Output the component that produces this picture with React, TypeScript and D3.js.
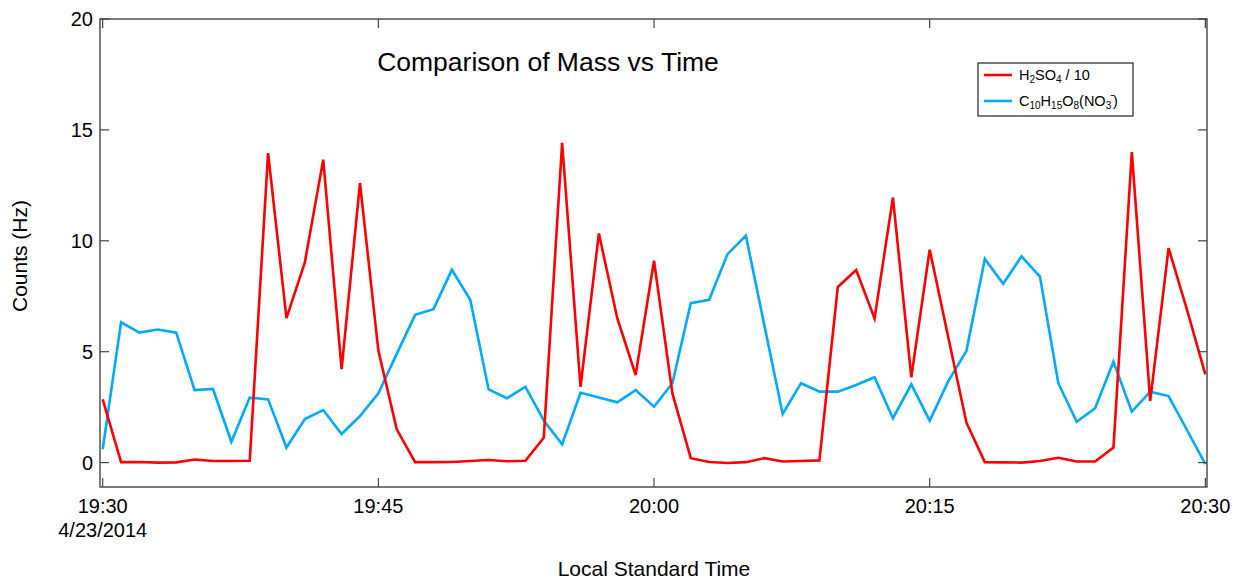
import React from "react";
import * as d3 from "d3";

const START = new Date(2014, 3, 23, 19, 30);
const MINUTES = d3.range(0, 61);
const H2SO4_DIV10 = [
  2.85, 0.02, 0.03, 0.0, 0.01, 0.14, 0.07, 0.07, 0.08, 13.95,
  6.51, 9.03, 13.66, 4.21, 12.6, 5.05, 1.5, 0.02, 0.02, 0.03,
  0.07, 0.12, 0.06, 0.08, 1.12, 14.42, 3.42, 10.33, 6.51, 3.95,
  9.1, 3.12, 0.2, 0.03, -0.02, 0.02, 0.2, 0.05, 0.07, 0.1,
  7.92, 8.68, 6.5, 11.95, 3.85, 9.6, 5.7, 1.8, 0.02, 0.01,
  0.0, 0.07, 0.22, 0.05, 0.05, 0.68, 14.0, 2.78, 9.67, 6.9,
  3.98,
];
const C10H15O8NO3 = [
  0.6, 6.32, 5.86, 6.0, 5.86, 3.27, 3.32, 0.94, 2.93, 2.85,
  0.68, 1.96, 2.37, 1.29, 2.1, 3.12, 4.9, 6.66, 6.92, 8.69,
  7.34, 3.3, 2.9, 3.42, 1.9, 0.82, 3.15, 2.93, 2.72, 3.27,
  2.52, 3.58, 7.19, 7.34, 9.4, 10.23, 6.2, 2.19, 3.58, 3.2,
  3.2, 3.5, 3.85, 2.0, 3.53, 1.89, 3.65, 5.04, 9.18, 8.06,
  9.3, 8.39, 3.58, 1.84, 2.45, 4.55, 2.3, 3.2, 3.0, 1.47,
  -0.07,
];
const Y_TICKS = [0, 5, 10, 15, 20];
const X_TICK_MINUTES = [0, 15, 30, 45, 60];
const DATE_LABEL = "4/23/2014";

const W = 1237;
const H = 580;
const PL = 100, PR = 1207, PT = 19, PB = 487;
const RED = "#ff0000";
const BLUE = "#00aaff";
const AXIS = "#444";
const FONT = "'Liberation Sans', Arial, sans-serif";

const t = (m: number) => START.getTime() + m * 60000;

export default function App() {
  const x = d3
    .scaleTime()
    .domain([new Date(t(-0.147)), new Date(t(60.09))])
    .range([PL, PR]);
  const y = d3.scaleLinear().domain([-1.1, 20]).range([PB, PT]);
  const fmt = d3.timeFormat("%H:%M");

  const line = d3
    .line<number>()
    .x((_, i) => x(new Date(t(MINUTES[i]))))
    .y((d) => y(d));

  const tickLen = 9;

  return (
    <svg
      width={W}
      height={H}
      style={{ position: "absolute", left: 0, top: 0, background: "#fff" }}
      fontFamily={FONT}
    >
      <rect x={0} y={0} width={W} height={H} fill="#fff" />
      <defs>
        <clipPath id="plot">
          <rect x={PL} y={PT} width={PR - PL} height={PB - PT} />
        </clipPath>
      </defs>

      {/* data lines */}
      <g clipPath="url(#plot)">
        <path
          d={line(C10H15O8NO3) || ""}
          fill="none"
          stroke={BLUE}
          strokeWidth={2.6}
          strokeLinejoin="miter"
        />
        <path
          d={line(H2SO4_DIV10) || ""}
          fill="none"
          stroke={RED}
          strokeWidth={2.6}
          strokeLinejoin="miter"
        />
      </g>

      {/* frame */}
      <rect
        x={PL}
        y={PT}
        width={PR - PL}
        height={PB - PT}
        fill="none"
        stroke={AXIS}
        strokeWidth={1.4}
      />

      {/* y ticks */}
      {Y_TICKS.map((v) => (
        <g key={"y" + v}>
          <line x1={PL} x2={PL + tickLen} y1={y(v)} y2={y(v)} stroke={AXIS} strokeWidth={1.2} />
          <line x1={PR} x2={PR - tickLen} y1={y(v)} y2={y(v)} stroke={AXIS} strokeWidth={1.2} />
          <text x={PL - 7} y={y(v)} dy="0.36em" textAnchor="end" fontSize={20} fill="#000">
            {v}
          </text>
        </g>
      ))}

      {/* x ticks */}
      {X_TICK_MINUTES.map((m, i) => {
        const xx = x(new Date(t(m)));
        return (
          <g key={"x" + m}>
            <line x1={xx} x2={xx} y1={PB} y2={PB - tickLen} stroke={AXIS} strokeWidth={1.2} />
            <line x1={xx} x2={xx} y1={PT} y2={PT + tickLen} stroke={AXIS} strokeWidth={1.2} />
            <text x={xx} y={513} textAnchor="middle" fontSize={20} fill="#000">
              {fmt(new Date(t(m)))}
            </text>
            {i === 0 && (
              <text x={xx} y={537} textAnchor="middle" fontSize={20} fill="#000">
                {DATE_LABEL}
              </text>
            )}
          </g>
        );
      })}

      {/* axis titles */}
      <text
        transform={`translate(27, ${(PT + PB) / 2 + 3}) rotate(-90)`}
        textAnchor="middle"
        fontSize={21}
        fill="#000"
      >
        Counts (Hz)
      </text>
      <text x={654} y={576} textAnchor="middle" fontSize={21} fill="#000">
        Local Standard Time
      </text>

      {/* chart title */}
      <text x={548} y={71} textAnchor="middle" fontSize={26.5} fill="#000">
        Comparison of Mass vs Time
      </text>

      {/* legend */}
      <g>
        <rect x={978} y={63} width={155} height={53} fill="#fff" stroke="#222" strokeWidth={1.2} />
        <line x1={984} x2={1012} y1={75} y2={75} stroke={RED} strokeWidth={2.6} />
        <line x1={984} x2={1012} y1={101} y2={101} stroke={BLUE} strokeWidth={2.6} />
        <text x={1019} y={80} fontSize={14.5} fill="#000">
          H
          <tspan fontSize={10} dy={3}>2</tspan>
          <tspan dy={-3}>SO</tspan>
          <tspan fontSize={10} dy={3}>4</tspan>
          <tspan dy={-3}> / 10</tspan>
        </text>
        <text x={1019} y={106} fontSize={14.5} fill="#000">
          C
          <tspan fontSize={10} dy={3}>10</tspan>
          <tspan dy={-3}>H</tspan>
          <tspan fontSize={10} dy={3}>15</tspan>
          <tspan dy={-3}>O</tspan>
          <tspan fontSize={10} dy={3}>8</tspan>
          <tspan dy={-3}>(NO</tspan>
          <tspan fontSize={10} dy={3}>3</tspan>
          <tspan fontSize={11} dx={-1} dy={-11}>-</tspan>
          <tspan dx={-1} dy={8}>)</tspan>
        </text>
      </g>
    </svg>
  );
}
